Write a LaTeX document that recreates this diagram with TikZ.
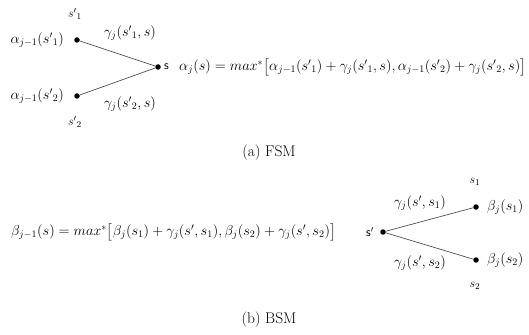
\documentclass[tikz,border=0pt]{standalone}
\usepackage{amsmath,amssymb}
\usepackage{tikz}
\usetikzlibrary{positioning,calc}
\definecolor{Wire}{HTML}{505050}

\begin{document}
\begin{tikzpicture}[x=1pt,y=-1pt,
    state/.style={circle,fill=black,inner sep=0pt,minimum size=5.5pt},
    lbl/.style={inner sep=1pt,font=\fontsize{14.2}{17}\selectfont},
    small/.style={inner sep=1pt,font=\fontsize{12.5}{15}\selectfont},
    figcap/.style={inner sep=1pt,font=\fontsize{15.5}{18}\selectfont},
    wire/.style={draw=Wire,line width=0.7pt}
]
\useasboundingbox (0,0) rectangle (529,334);
% (a) FSM
\node[state] (p1) at (77,40) {};
\node[state] (p2) at (77,96) {};
\node[state] (sa) at (158,67) {};
\node[small] (p1n) at (75,14) {$s'{}_1$};
\node[small] (p2n) at (75,122) {$s'{}_2$};
\node[lbl,left=9pt of p1] (a1) {$\alpha_{j-1}(s'{}_1)$};
\node[lbl,left=9pt of p2] (a2) {$\alpha_{j-1}(s'{}_2)$};
\node[small,right=2pt of sa] (san) {\textsf{s}};
\node[lbl] (g1) at (130,33) {$\gamma_j(s'{}_1,s)$};
\node[lbl] (g2) at (130,104) {$\gamma_j(s'{}_2,s)$};
\draw[wire] (p1) -- (sa);
\draw[wire] (p2) -- (sa);
\node[lbl,anchor=west] (fsmeq) at (178,67)
  {$\alpha_j(s)=max^{*}\bigl[\alpha_{j-1}(s'{}_1)+\gamma_j(s'{}_1,s),\alpha_{j-1}(s'{}_2)+\gamma_j(s'{}_2,s)\bigr]$};
\node[figcap] (capa) at (269,153) {(a)\ FSM};
% (b) BSM
\node[state] (sb) at (383,232) {};
\node[state] (q1) at (476,207) {};
\node[state] (q2) at (476,260) {};
\node[small,left=5pt of sb] (sbn) {\textsf{s}$'$};
\node[small] (q1n) at (475,182) {$s_1$};
\node[small] (q2n) at (475,286) {$s_2$};
\node[lbl,right=7pt of q1] (b1) {$\beta_j(s_1)$};
\node[lbl,right=7pt of q2] (b2) {$\beta_j(s_2)$};
\node[lbl] (h1) at (420,203) {$\gamma_j(s',s_1)$};
\node[lbl] (h2) at (420,263) {$\gamma_j(s',s_2)$};
\draw[wire] (sb) -- (q1);
\draw[wire] (sb) -- (q2);
\node[lbl,anchor=west] (bsmeq) at (10,232)
  {$\beta_{j-1}(s)=max^{*}\bigl[\beta_j(s_1)+\gamma_j(s',s_1),\beta_j(s_2)+\gamma_j(s',s_2)\bigr]$};
\node[figcap] (capb) at (269,320) {(b)\ BSM};
\end{tikzpicture}
\end{document}
